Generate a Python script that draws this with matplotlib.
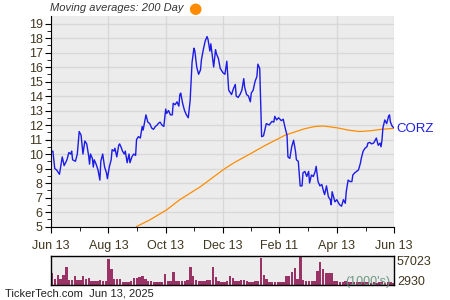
import numpy as np
import pandas as pd
import matplotlib
matplotlib.use('Agg')
import matplotlib.pyplot as plt

plt.rcParams['font.family'] = ['Liberation Sans', 'DejaVu Sans']

# days since Jun 13, 2024 and closing price
price_day = [0, 2, 4, 6, 9, 12, 14, 17, 19, 21, 22, 23, 26, 28, 30, 32, 34, 36, 38, 40,
             41, 42, 44, 45, 46, 48, 50, 52, 53, 55, 57, 59, 60, 62, 64, 65, 67, 68, 70, 72,
             73, 75, 76, 78, 79, 81, 83, 84, 86, 88, 90, 91, 93, 95, 97, 98, 99, 101, 103, 105,
             107, 109, 111, 113, 114, 116, 118, 120, 122, 123, 125, 127, 129, 130, 132, 134, 136, 137, 138, 140,
             142, 144, 146, 148, 150, 152, 153, 155, 157, 159, 160, 162, 164, 166, 167, 169, 170, 173, 175, 176,
             178, 180, 182, 183, 185, 187, 189, 190, 192, 194, 196, 197, 199, 201, 203, 205, 206, 208, 210, 212,
             213, 215, 217, 219, 220, 222, 224, 226, 229, 232, 235, 237, 238, 240, 242, 245, 247, 249, 251, 252,
             254, 256, 258, 260, 261, 263, 265, 267, 268, 270, 272, 274, 275, 277, 279, 281, 282, 284, 286, 288,
             290, 291, 293, 295, 297, 298, 299, 301, 302, 304, 306, 307, 309, 311, 313, 314, 316, 318, 320, 321,
             323, 325, 327, 329, 330, 332, 334, 336, 337, 339, 341, 343, 344, 346, 348, 350, 351, 352, 353, 355,
             357, 359, 360, 361, 363, 365]
price = [10.15, 10.2, 9.0, 8.9, 8.6, 9.8, 9.2, 9.6, 10.1, 10.0, 10.2, 9.6, 9.5, 10.0, 11.55, 11.3, 10.0, 10.9, 10.7, 9.9,
         9.3, 10.0, 9.7, 9.1, 9.6, 9.3, 8.9, 8.2, 9.5, 10.0, 9.1, 8.7, 8.3, 9.1, 9.6, 10.3, 10.2, 10.4, 9.8, 10.6,
         10.7, 10.4, 10.2, 10.0, 10.2, 9.4, 10.0, 9.4, 9.8, 10.0, 9.9, 11.0, 11.2, 11.1, 11.9, 11.65, 12.0, 12.7, 12.2, 12.1,
         11.8, 11.7, 11.9, 12.0, 12.1, 12.2, 12.0, 11.9, 13.1, 12.8, 13.0, 12.7, 12.7, 13.5, 13.4, 13.6, 13.3, 14.1, 14.2, 13.5,
         13.0, 12.7, 12.5, 13.7, 16.3, 17.3, 17.1, 16.0, 15.5, 15.8, 16.5, 17.2, 17.8, 18.1, 17.9, 17.1, 17.6, 16.0, 17.2, 16.9,
         16.6, 15.9, 15.7, 15.6, 15.5, 16.4, 14.4, 14.3, 14.1, 14.5, 14.8, 14.0, 13.9, 14.1, 14.4, 15.2, 14.6, 14.1, 14.0, 13.6,
         14.2, 14.4, 15.0, 15.35, 16.2, 15.9, 11.2, 11.25, 12.1, 12.0, 12.25, 12.2, 12.6, 12.35, 12.5, 12.3, 12.4, 11.8, 11.3, 9.8,
         9.7, 10.5, 10.95, 10.2, 9.6, 9.5, 7.8, 7.8, 8.7, 8.8, 8.45, 8.8, 8.0, 8.55, 8.45, 8.8, 9.15, 8.1, 7.8, 7.9,
         7.4, 7.2, 7.8, 7.05, 6.85, 6.5, 7.4, 6.95, 6.7, 6.85, 6.6, 6.5, 6.4, 6.85, 6.6, 7.4, 8.2, 8.1, 8.1, 8.55,
         8.7, 8.8, 8.9, 9.35, 9.7, 10.2, 10.4, 10.5, 10.75, 10.8, 10.7, 10.75, 10.85, 11.1, 10.6, 10.75, 10.5, 10.95, 11.8, 12.35,
         12.1, 12.6, 12.7, 12.2, 11.9, 11.8]

# 200 day moving average
ma_day = [91, 105, 123, 137, 159, 185, 196, 206, 228, 249, 270, 281, 290, 305, 316, 328, 339, 351, 365]
ma200 = [5.0, 5.45, 6.15, 6.85, 7.75, 9.0, 9.45, 9.8, 10.6, 11.3, 11.75, 11.9, 11.93, 11.8, 11.65, 11.55, 11.6, 11.7, 11.77]

# volume (thousands), one value every 3 days
vol_day = np.arange(0, 366, 3)
volume = [23, 11, 20, 11, 20, 36, 10, 9, 18, 9, 9, 18, 12, 13, 7, 8, 7, 9, 7, 8,
          52, 31, 12, 12, 12, 6, 6, 6, 7, 14, 14, 15, 17, 12, 8, 8, 6, 5, 6, 6,
          22, 8, 8, 25, 8, 7, 7, 8, 9, 35, 17, 9, 8, 8, 8, 9, 9, 35, 15, 8,
          6, 6, 7, 18, 14, 7, 7, 9, 10, 8, 6, 6, 7, 7, 54, 20, 12, 6, 6, 6,
          6, 6, 6, 17, 17, 25, 34, 12, 57, 10, 8, 8, 7, 8, 27, 46, 31, 24, 24, 24,
          8, 7, 6, 6, 7, 6, 5, 5, 6, 5, 5, 5, 5, 4, 5, 4, 5, 5, 4, 5,
          5, 4]
vol_max = 57023
vol_min = 2930

tick_labels = ['Jun 13', 'Aug 13', 'Oct 13', 'Dec 13', 'Feb 11', 'Apr 13', 'Jun 13']
tick_dates = ['2024-06-13', '2024-08-13', '2024-10-13', '2024-12-13', '2025-02-11', '2025-04-13', '2025-06-13']

start = pd.Timestamp('2024-06-13')
end = pd.Timestamp('2025-06-13')
p_dates = start + pd.to_timedelta(price_day, unit='D')
m_dates = start + pd.to_timedelta(ma_day, unit='D')
v_dates = start + pd.to_timedelta(vol_day, unit='D')
t_dates = pd.to_datetime(tick_dates)
minor_dates = t_dates[:-1] + (t_dates[1:] - t_dates[:-1]) / 2

txt = '#40361f'
fig = plt.figure(figsize=(4.5, 3), dpi=100)

# price panel
ax = fig.add_axes([0.1133, 0.245, 0.7627, 0.7017])
ax.set_facecolor('#ececec')
ax.plot(m_dates, ma200, color='#ff8c00', lw=0.9)
ax.plot(p_dates, price, color='#1c1ce6', lw=1)
ax.set_xlim(start, end)
ax.set_ylim(5, 19.52)
ax.set_yticks(range(5, 20))
ax.set_yticks(np.arange(5.5, 19.5, 1), minor=True)
ax.set_xticks(t_dates)
ax.set_xticklabels(tick_labels)
ax.set_xticks(minor_dates, minor=True)
ax.grid(True, which='major', color='#d8d8d8', lw=1)
ax.set_axisbelow(True)
for s in ['top', 'right']:
    ax.spines[s].set_visible(False)
ax.tick_params(which='major', length=4, labelsize=9, labelcolor=txt, pad=2)
ax.tick_params(which='minor', length=3)
ax.tick_params(axis='x', pad=6)
ax.text(1.006, 11.75, 'CORZ', transform=ax.get_yaxis_transform(), color='#1c1ce6',
        fontsize=9.5, va='center', ha='left')

fig.text(0.111, 0.972, 'Moving averages: 200 Day', fontsize=8, style='italic', color='#333333',
         va='center', ha='left')
fig.text(0.418, 0.972, '\u25cf', fontsize=11, color='#ff8c00', va='center', ha='left',
         family='DejaVu Sans')

# volume panel
vax = fig.add_axes([0.1133, 0.05, 0.7627, 0.0967])
vax.set_facecolor('#ececec')
vax.bar(v_dates, volume, width=2.6, color='#993366', align='edge')
vax.set_xlim(start, end)
vax.set_ylim(0, vol_max / 1000)
vax.set_xticks([])
vax.set_yticks([])
for s in vax.spines.values():
    s.set_linewidth(1)
vax.text(1.008, 0.8, str(vol_max), transform=vax.transAxes, fontsize=9, color=txt, va='center')
vax.text(1.008, 0.12, str(vol_min), transform=vax.transAxes, fontsize=9, color=txt, va='center')
vax.text(0.99, 0.12, "(1000's)", transform=vax.transAxes, fontsize=9, color='#5f8f78',
         va='center', ha='right', alpha=0.9)

fig.text(0.011, 0.022, 'TickerTech.com  Jun 13, 2025', fontsize=8, color='#222222', va='center')

fig.savefig('out.png', dpi=100)
